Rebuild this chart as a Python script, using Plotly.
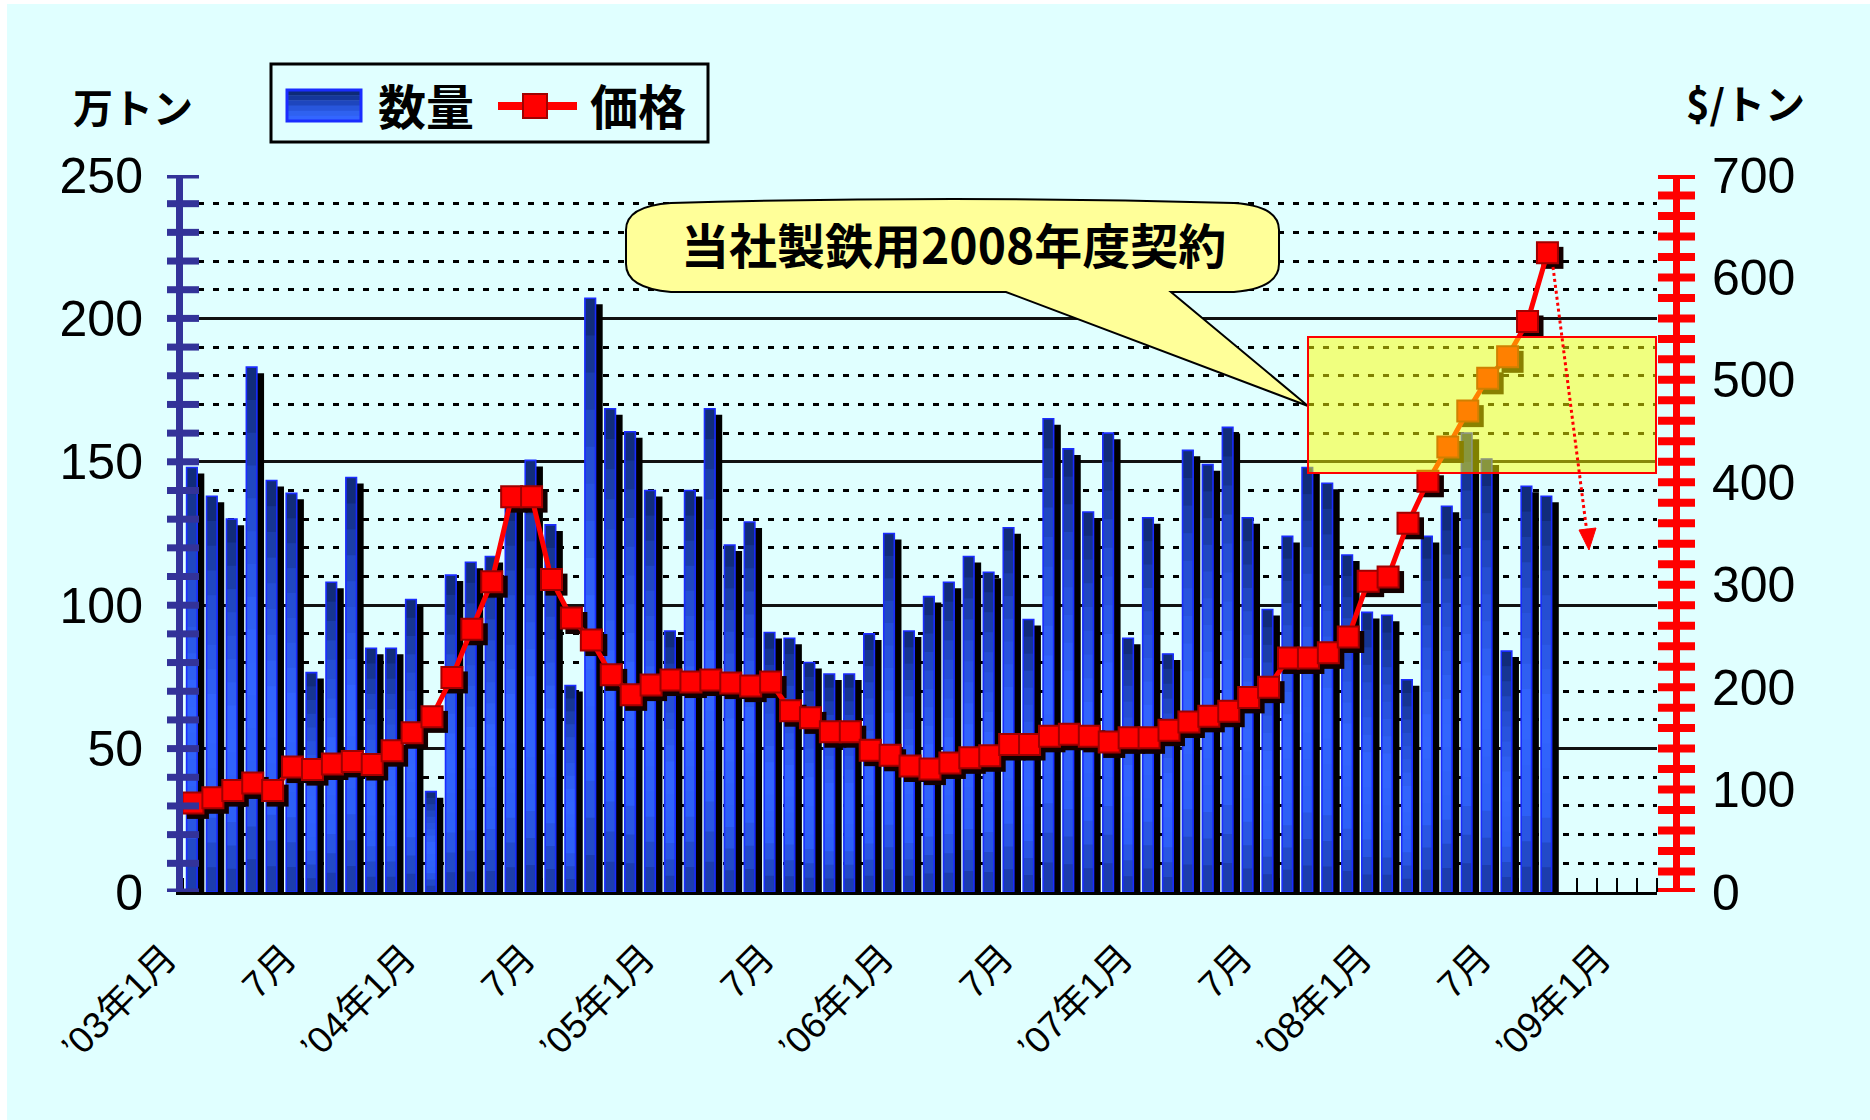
import plotly.graph_objects as go

W, H = 1870, 1120

# ---------------- data ----------------
qty = [148, 138, 130, 183, 143.5, 139, 76.5, 108, 144.5, 85, 85, 102,
       35, 110.5, 115, 117, 138, 150.5, 128, 72, 207, 168.5, 160.5, 140,
       91, 140, 168.5, 121, 129, 90.5, 88.5, 80, 76, 76, 90, 125,
       91, 103, 108, 117, 111.5, 127, 95, 165, 154.5, 132.5, 160, 88.5,
       130.5, 83, 154, 149, 162, 130.5, 98.5, 124, 148, 142.5, 117.5, 97.5,
       96.5, 74, 124, 134.5, 160, 151, 84, 141.5, 138]
price = [87, 92, 99, 106.5, 99, 122, 119.5, 125, 127.5, 124.5, 138, 155.5,
         171, 209.5, 256.5, 303, 386, 386, 305, 267.5, 246, 212, 192.5, 202,
         207, 205, 207, 204, 201, 205, 177, 170, 156.5, 156.5, 138.5, 133.5,
         123, 120, 126, 131, 133, 144, 144, 152, 154, 152, 146.5, 150.5,
         150.5, 158, 166, 171.5, 176.5, 190, 200, 228.5, 228.5, 233.5, 249, 303.5,
         307.5, 360, 401, 434.5, 469.5, 501.5, 522.5, 557, 624]
tick_labels = ["’03年1月", "7月", "’04年1月", "7月", "’05年1月", "7月", "’06年1月",
               "7月", "’07年1月", "7月", "’08年1月", "7月", "’09年1月"]
n_slots = 74          # monthly slots Jan 2003 .. Feb 2009
qty_ticks = list(range(0, 251, 50))
price_ticks = list(range(0, 701, 100))
callout_text = "当社製鉄用2008年度契約"

idx = list(range(len(qty)))
tick_pos = [6 * k for k in range(len(tick_labels))]

# ---------------- helpers ----------------
def PX(x):
    return x / W

def PY(y):
    return 1 - y / H

XL, XR = 183, 1657      # plot area in pixels
YB, YT = 892, 175

JP = "Noto Sans CJK JP"
NUM = "Liberation Sans, Noto Sans CJK JP"

fig = go.Figure()

# ---------------- bars (3D-like) ----------------
BW = 0.53
fig.add_trace(go.Bar(x=idx, y=[v - 2.1 for v in qty], offset=0.04, width=BW,
                     marker=dict(color="#000000", line=dict(width=0)),
                     xaxis="x2", yaxis="y2", showlegend=False, hoverinfo="skip"))

stops = [(0.0, (25, 55, 160)), (0.2, (45, 95, 245)), (0.45, (51, 102, 255)),
         (0.75, (35, 75, 205)), (1.0, (14, 40, 110))]

def grad(f):
    for (f0, c0), (f1, c1) in zip(stops[:-1], stops[1:]):
        if f0 <= f <= f1:
            t = (f - f0) / (f1 - f0)
            return "rgb(%d,%d,%d)" % tuple(round(a + (b - a) * t) for a, b in zip(c0, c1))
    return "rgb(%d,%d,%d)" % stops[-1][1]

NB = 16
for k in range(NB):
    fig.add_trace(go.Bar(x=idx, y=[v * (NB - k) / NB for v in qty], base=[v * k / NB for v in qty],
                         offset=-0.32, width=BW,
                         marker=dict(color=grad((k + 0.5) / NB), line=dict(width=0)),
                         xaxis="x2", yaxis="y2", showlegend=False, hoverinfo="skip"))
fig.add_trace(go.Bar(x=idx, y=qty, offset=-0.32, width=BW, name="数量",
                     marker=dict(color="rgba(0,0,0,0)", line=dict(color="#1a2cff", width=1.6)),
                     xaxis="x2", yaxis="y2", showlegend=False))

# ---------------- price line ----------------
fig.add_trace(go.Scatter(x=[i + 0.25 for i in idx], y=[p - 4.9 for p in price], mode="markers",
                         marker=dict(symbol="square", size=22, color="#120000"),
                         xaxis="x2", yaxis="y3", showlegend=False, hoverinfo="skip"))
fig.add_trace(go.Scatter(x=idx, y=price, mode="lines+markers", name="価格",
                         line=dict(color="#ff0000", width=5),
                         marker=dict(symbol="square", size=21, color="#ff0000",
                                     line=dict(color="#a00000", width=2)),
                         xaxis="x2", yaxis="y3", showlegend=False))

# ---------------- shapes ----------------
shapes = []
# graph-paper background
shapes.append(dict(type="rect", xref="paper", yref="paper", x0=PX(7), x1=1, y0=0, y1=PY(4),
                   fillcolor="#e0ffff", line=dict(width=0), layer="below"))
# axis tick crosses
for v in range(0, 251, 10):
    shapes.append(dict(type="line", xref="paper", yref="y2", x0=PX(167), x1=PX(199), y0=v, y1=v,
                       line=dict(color="#333399", width=7), layer="above"))
for v in range(0, 701, 20):
    shapes.append(dict(type="line", xref="paper", yref="y3", x0=PX(1658), x1=PX(1695), y0=v, y1=v,
                       line=dict(color="#ff0000", width=8), layer="above"))
# title boxes
shapes.append(dict(type="rect", xref="paper", yref="paper", x0=PX(45), x1=PX(221), y0=PY(139), y1=PY(64),
                   fillcolor="#e0ffff", line=dict(width=0), layer="above"))
shapes.append(dict(type="rect", xref="paper", yref="paper", x0=PX(1636), x1=PX(1850), y0=PY(141), y1=PY(64),
                   fillcolor="#e0ffff", line=dict(width=0), layer="above"))
# legend
shapes.append(dict(type="rect", xref="paper", yref="paper", x0=PX(271), x1=PX(708), y0=PY(142), y1=PY(64),
                   fillcolor="#e0ffff", line=dict(color="#000000", width=3), layer="above"))
sw_cols = ["#0d2a78", "#15379a", "#1e46bd", "#2856dc", "#2f62f0", "#3366ff"]
for k, c in enumerate(sw_cols):
    y0 = 90 + k * 31 / len(sw_cols)
    shapes.append(dict(type="rect", xref="paper", yref="paper", x0=PX(287), x1=PX(361),
                       y0=PY(y0 + 31 / len(sw_cols) + 0.5), y1=PY(y0), fillcolor=c, line=dict(width=0),
                       layer="above"))
shapes.append(dict(type="rect", xref="paper", yref="paper", x0=PX(287), x1=PX(361), y0=PY(121), y1=PY(90),
                   line=dict(color="#1a2cff", width=3), layer="above"))
shapes.append(dict(type="line", xref="paper", yref="paper", x0=PX(498), x1=PX(577), y0=PY(106), y1=PY(106),
                   line=dict(color="#ff0000", width=8), layer="above"))
shapes.append(dict(type="rect", xref="paper", yref="paper", x0=PX(523), x1=PX(547), y0=PY(118), y1=PY(94),
                   fillcolor="#ff0000", line=dict(color="#a00000", width=2), layer="above"))

# callout balloon
def P(x, y):
    return "%.5f,%.5f" % (PX(x), PY(y))

L, R, T, B = 626, 1279, 200, 292
path = ("M" + P(L + 45, T + 3) + " Q" + P(953, T - 5) + " " + P(R - 45, T + 3) +
        " Q" + P(R, T + 6) + " " + P(R, T + 30) + " L" + P(R, B - 28) +
        " Q" + P(R, B - 4) + " " + P(R - 45, B) + " L" + P(1171, B) + " L" + P(1308, 406) +
        " L" + P(1006, B) + " L" + P(L + 45, B) + " Q" + P(L, B - 4) + " " + P(L, B - 28) +
        " L" + P(L, T + 30) + " Q" + P(L, T + 6) + " " + P(L + 45, T + 3) + " Z")
shapes.append(dict(type="path", xref="paper", yref="paper", path=path, fillcolor="#ffff99",
                   line=dict(color="#000000", width=2), layer="above"))
# highlighted box
shapes.append(dict(type="rect", xref="paper", yref="paper", x0=PX(1308), x1=PX(1656), y0=PY(473), y1=PY(337),
                   fillcolor="rgba(255,255,0,0.5)", line=dict(color="#ff0000", width=2), layer="above"))
# dotted arrow
shapes.append(dict(type="line", xref="paper", yref="paper", x0=PX(1553), y0=PY(267), x1=PX(1587), y1=PY(533),
                   line=dict(color="#ff0000", width=3, dash="dot"), layer="above"))
shapes.append(dict(type="path", xref="paper", yref="paper",
                   path="M" + P(1589, 550) + " L" + P(1579, 530) + " L" + P(1596, 528) + " Z",
                   fillcolor="#ff0000", line=dict(color="#ff0000", width=1), layer="above"))

# ---------------- annotations ----------------
ann = []
def txt(x, y, s, size, family=JP, bold=True):
    ann.append(dict(xref="paper", yref="paper", x=PX(x), y=PY(y), text=s, showarrow=False,
                    xanchor="center", yanchor="middle",
                    font=dict(family=family, size=size, color="#000000",
                              weight="bold" if bold else "normal")))

txt(133, 106, "万トン", 40)
txt(1745, 102, "$/トン", 40)
txt(426, 104, "数量", 48)
txt(638, 104, "価格", 48)
txt(953, 243, callout_text, 48)

# ---------------- layout ----------------
fig.update_layout(
    template="none",
    width=W, height=H, margin=dict(l=0, r=0, t=0, b=0, pad=0, autoexpand=False),
    paper_bgcolor="#ffffff", plot_bgcolor="rgba(0,0,0,0)",
    barmode="overlay", showlegend=False,
    shapes=shapes, annotations=ann,
    xaxis=dict(domain=[0, 1], range=[0, W], anchor="y", showgrid=True, gridcolor="#a3efef", gridwidth=1,
               tickmode="linear", tick0=6, dtick=15.65, showticklabels=False, zeroline=False,
               showline=False, ticks="", fixedrange=True, automargin=False,
               minor=dict(tick0=6, dtick=15.65 / 4, showgrid=True, gridcolor="#d2f9f9", gridwidth=1)),
    yaxis=dict(domain=[0, 1], range=[0, H], anchor="x", showgrid=True, gridcolor="#a3efef", gridwidth=1,
               tickmode="linear", tick0=8, dtick=15.62, showticklabels=False, zeroline=False,
               showline=False, ticks="", fixedrange=True, automargin=False,
               minor=dict(tick0=8, dtick=15.62 / 4, showgrid=True, gridcolor="#d2f9f9", gridwidth=1)),
    xaxis2=dict(domain=[PX(XL), PX(XR)], range=[-0.5, n_slots - 0.5], anchor="y2",
                showgrid=False, zeroline=False, showline=True, linecolor="#000000", linewidth=3,
                layer="below traces", automargin=False,
                tickmode="array", tickvals=tick_pos, ticktext=tick_labels, tickangle=-45,
                ticks="outside", ticklen=26, tickcolor="rgba(0,0,0,0)", ticklabelshift=-27,
                tickfont=dict(family=NUM, size=37, color="#000000"),
                minor=dict(tickmode="array", tickvals=[k - 0.5 for k in range(n_slots + 1)],
                           ticks="inside", ticklen=14, tickwidth=2, tickcolor="#000000", showgrid=False)),
    yaxis2=dict(domain=[1 - YB / H, 1 - YT / H], range=[0, 250], anchor="x2",
                showgrid=True, gridcolor="#111111", gridwidth=2.5, zeroline=False,
                showline=True, linecolor="#333399", linewidth=7, automargin=False,
                tickmode="array", tickvals=qty_ticks,
                ticks="outside", ticklen=23, tickcolor="rgba(0,0,0,0)",
                tickfont=dict(family=NUM, size=50, color="#000000"),
                minor=dict(tickmode="linear", tick0=0, dtick=10, showgrid=True, gridcolor="#000000",
                           gridwidth=2.5, griddash="6px,9px", ticks="")),
    yaxis3=dict(range=[0, 700], overlaying="y2", side="right", anchor="free", position=PX(1676),
                showgrid=False, zeroline=False, showline=True, linecolor="#ff0000", linewidth=7,
                automargin=False,
                tickmode="array", tickvals=price_ticks,
                ticks="outside", ticklen=22, tickcolor="rgba(0,0,0,0)",
                tickfont=dict(family=NUM, size=50, color="#000000")),
)

fig.write_html("out.html", config={"displayModeBar": False},
               post_script="document.body.style.margin='0px';")
